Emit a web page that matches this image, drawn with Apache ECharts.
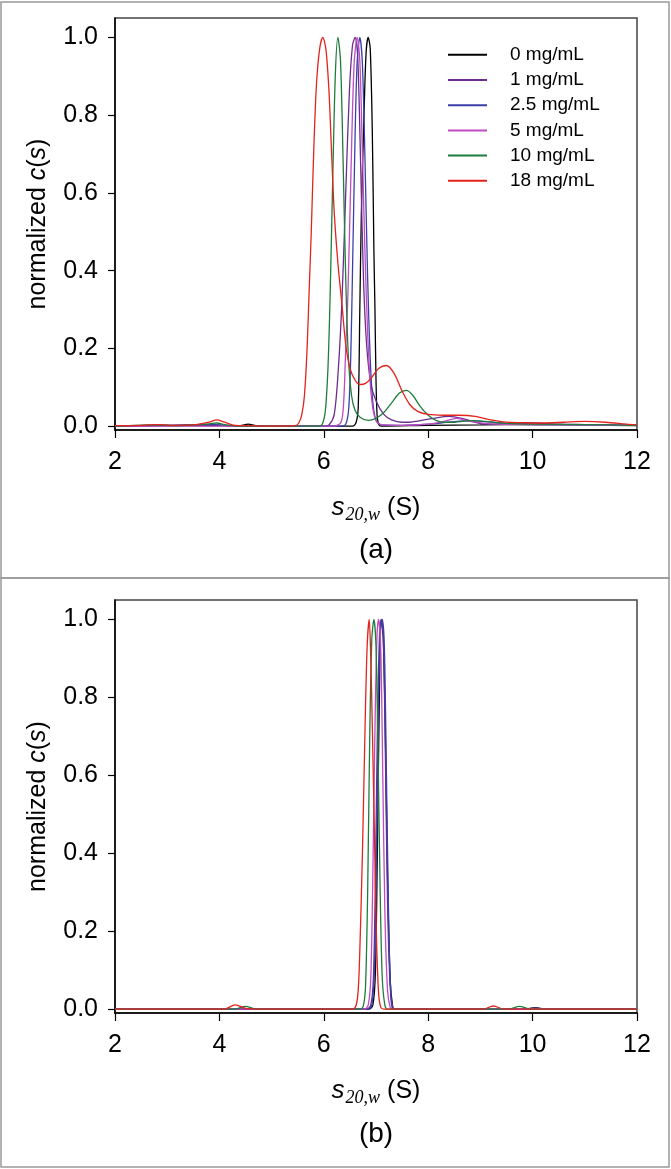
<!DOCTYPE html>
<html>
<head>
<meta charset="utf-8">
<script src="https://cdn.jsdelivr.net/npm/echarts@6/dist/echarts.min.js"></script>
<style>
html, body { margin: 0; padding: 0; background: #fff; }
#chart { width: 671px; height: 1169px; }
</style>
</head>
<body>
<div id="chart"></div>
<script>
// legend names and line colours
const names = ['0 mg/mL', '1 mg/mL', '2.5 mg/mL', '5 mg/mL', '10 mg/mL', '18 mg/mL'];
const colors = ['#000000', '#6b2d8f', '#3a40a8', '#c04ac0', '#1f7d3c', '#e3231d'];
const xTicks = [2, 4, 6, 8, 10, 12];
const yTicks = [0, 0.2, 0.4, 0.6, 0.8, 1.0];

// panel (a): [s20,w, normalized c(s)]
const a0 = [[2,0],[3,0.001],[4,0.002],[4.4,0.001],[4.55,0.005],[4.7,0.001],[5,0],[6.55,0],[6.62,0.01],[6.66,0.05],[6.69,0.3],[6.72,0.55],[6.77,0.8],[6.81,0.96],[6.85,1.0],[6.89,0.97],[6.93,0.75],[6.96,0.45],[6.98,0.3],[7.0,0.12],[7.02,0.03],[7.05,0.005],[7.1,0],[8,0.002],[9,0.003],[10,0.004],[11,0.003],[12,0.001]];
const a1 = [[2,0],[3,0.001],[3.9,0.004],[4.2,0.001],[5,0],[6,0],[6.1,0.003],[6.2,0.03],[6.28,0.15],[6.35,0.33],[6.42,0.6],[6.49,0.86],[6.55,0.98],[6.6,1.0],[6.65,0.95],[6.71,0.65],[6.76,0.38],[6.82,0.21],[6.9,0.11],[7.0,0.065],[7.15,0.03],[7.3,0.016],[7.5,0.01],[7.65,0.01],[7.8,0.013],[8.1,0.02],[8.4,0.025],[8.7,0.018],[9.05,0.006],[9.5,0.005],[10,0.008],[10.5,0.005],[11,0.004],[12,0.002]];
const a25 = [[2,0],[3.9,0.004],[4.2,0],[6.3,0],[6.42,0.005],[6.48,0.05],[6.52,0.2],[6.55,0.4],[6.6,0.75],[6.64,0.94],[6.69,1.0],[6.74,0.93],[6.79,0.68],[6.84,0.38],[6.89,0.17],[6.94,0.06],[7.0,0.015],[7.1,0.003],[7.5,0.002],[8,0.005],[8.4,0.01],[8.8,0.014],[9.2,0.01],[9.6,0.006],[10,0.004],[11,0.003],[12,0.002]];
const a5 = [[2,0],[6.2,0],[6.33,0.01],[6.38,0.06],[6.42,0.2],[6.46,0.33],[6.52,0.65],[6.58,0.93],[6.64,1.0],[6.69,0.94],[6.74,0.7],[6.79,0.44],[6.84,0.24],[6.89,0.11],[6.94,0.045],[7.0,0.015],[7.1,0.004],[7.5,0.002],[8,0.005],[8.3,0.012],[8.55,0.02],[8.8,0.012],[9.2,0.006],[10,0.004],[12,0.002]];
const a10 = [[2,0],[2.8,0.003],[3.2,0.001],[3.8,0.006],[3.95,0.008],[4.1,0.004],[4.4,0],[5.9,0],[5.97,0.005],[6.03,0.04],[6.08,0.15],[6.12,0.33],[6.17,0.63],[6.22,0.9],[6.27,1.0],[6.32,0.94],[6.37,0.68],[6.42,0.38],[6.47,0.18],[6.53,0.08],[6.6,0.04],[6.7,0.022],[6.85,0.015],[7.0,0.02],[7.15,0.035],[7.3,0.06],[7.45,0.085],[7.58,0.092],[7.7,0.08],[7.85,0.05],[8.0,0.028],[8.15,0.015],[8.3,0.01],[8.5,0.01],[8.8,0.014],[9.1,0.012],[9.5,0.007],[10,0.005],[11,0.004],[12,0.002]];
const a18 = [[2,0.001],[2.5,0.002],[2.8,0.004],[3.1,0.002],[3.5,0.003],[3.8,0.01],[3.95,0.016],[4.1,0.01],[4.3,0.002],[4.6,0.001],[5,0],[5.45,0.001],[5.52,0.008],[5.58,0.03],[5.63,0.08],[5.68,0.2],[5.72,0.35],[5.76,0.5],[5.81,0.72],[5.86,0.88],[5.92,0.97],[5.98,1.0],[6.04,0.97],[6.1,0.86],[6.15,0.7],[6.2,0.55],[6.27,0.42],[6.35,0.31],[6.42,0.21],[6.5,0.15],[6.6,0.118],[6.7,0.107],[6.8,0.11],[6.9,0.122],[7.05,0.148],[7.2,0.156],[7.35,0.135],[7.5,0.09],[7.65,0.055],[7.8,0.038],[8.0,0.03],[8.3,0.028],[8.6,0.028],[8.9,0.025],[9.2,0.016],[9.5,0.01],[9.8,0.009],[10.2,0.008],[10.6,0.01],[11.0,0.012],[11.4,0.01],[11.8,0.005],[12,0.003]];

// panel (b)
const b0 = [[2,0],[6.86,0],[6.94,0.01],[6.99,0.1],[7.03,0.45],[7.07,0.85],[7.1,1.0],[7.14,0.95],[7.18,0.7],[7.22,0.35],[7.27,0.08],[7.32,0.005],[7.36,0],[9.85,0],[10.05,0.004],[10.25,0],[12,0]];
const b1 = [[2,0],[6.82,0],[6.9,0.01],[6.95,0.08],[6.99,0.35],[7.03,0.75],[7.07,0.97],[7.1,1.0],[7.14,0.95],[7.18,0.65],[7.22,0.28],[7.27,0.06],[7.32,0.005],[7.36,0],[12,0]];
const b25 = [[2,0],[6.84,0],[6.92,0.01],[6.97,0.1],[7.01,0.4],[7.05,0.8],[7.09,0.98],[7.12,1.0],[7.16,0.93],[7.2,0.6],[7.24,0.25],[7.28,0.05],[7.33,0],[9.85,0],[10.05,0.003],[10.25,0],[12,0]];
const b5 = [[2,0],[6.78,0],[6.85,0.01],[6.9,0.08],[6.94,0.35],[6.98,0.72],[7.02,0.96],[7.05,1.0],[7.09,0.93],[7.13,0.6],[7.17,0.25],[7.22,0.05],[7.27,0.005],[7.32,0],[12,0]];
const b10 = [[2,0],[4.3,0],[4.5,0.007],[4.7,0],[6.7,0],[6.76,0.01],[6.8,0.06],[6.84,0.3],[6.88,0.7],[6.92,0.95],[6.96,1.0],[7.0,0.93],[7.04,0.65],[7.08,0.3],[7.12,0.08],[7.17,0.01],[7.22,0],[9.55,0],[9.75,0.007],[9.95,0],[12,0]];
const b18 = [[2,0],[4.1,0],[4.3,0.011],[4.5,0.002],[4.7,0],[6.55,0],[6.62,0.01],[6.66,0.05],[6.69,0.15],[6.74,0.4],[6.79,0.72],[6.83,0.93],[6.87,1.0],[6.9,0.9],[6.93,0.72],[6.97,0.45],[7.01,0.18],[7.05,0.04],[7.09,0.005],[7.15,0],[9.05,0],[9.25,0.008],[9.45,0],[12,0]];

const panelA = [a0, a1, a25, a5, a10, a18];
const panelB = [b0, b1, b25, b5, b10, b18];

const font = 'Liberation Sans, Arial, sans-serif';

function xAxisFor(gridIndex) {
  return {
    gridIndex: gridIndex,
    type: 'value',
    min: 2, max: 12, interval: 2,
    name: '{s|s}{sub|20,w}{n| (S)}',
    nameLocation: 'middle',
    nameGap: 62,
    nameTextStyle: {
      rich: {
        s: { fontSize: 26, fontStyle: 'italic', fontFamily: font, color: '#000' },
        sub: { fontSize: 18, fontStyle: 'italic', fontFamily: 'Liberation Serif, serif', color: '#000', padding: [14, 0, 0, 1] },
        n: { fontSize: 25, fontFamily: font, color: '#000' }
      }
    },
    axisLine: { show: true, onZero: false, lineStyle: { color: '#000', width: 1.5 } },
    axisTick: { show: true, length: 8, lineStyle: { color: '#000', width: 1.2 } },
    axisLabel: { fontSize: 25, fontFamily: font, color: '#000', margin: 20 },
    splitLine: { show: false }
  };
}

function yAxisFor(gridIndex) {
  return {
    gridIndex: gridIndex,
    type: 'value',
    min: -0.01, max: 1.05,
    name: 'normalized {i|c}({i|s})',
    nameLocation: 'middle',
    nameRotate: 90,
    nameGap: 64,
    nameTextStyle: {
      fontSize: 25, fontFamily: font, color: '#000',
      rich: { i: { fontSize: 25, fontFamily: font, fontStyle: 'italic', color: '#000' } }
    },
    axisLine: { show: true, onZero: false, lineStyle: { color: '#000', width: 1.5 } },
    axisTick: { show: true, length: 7, customValues: yTicks, lineStyle: { color: '#000', width: 1.2 } },
    axisLabel: {
      fontSize: 25, fontFamily: font, color: '#000', margin: 17,
      customValues: yTicks,
      formatter: v => v.toFixed(1)
    },
    splitLine: { show: false }
  };
}

const series = [];
[panelA, panelB].forEach((panel, gi) => {
  panel.forEach((data, i) => {
    series.push({
      name: names[i],
      type: 'line',
      xAxisIndex: gi, yAxisIndex: gi,
      data: data,
      smooth: 0.3,
      symbol: 'none',
      lineStyle: { color: colors[i], width: 1.3 },
      itemStyle: { color: colors[i] },
      emphasis: { disabled: true },
      z: 2 + i
    });
  });
});

const chart = echarts.init(document.getElementById('chart'));
chart.setOption({
  animation: false,
  backgroundColor: '#fff',
  grid: [
    { left: 115, top: 18, width: 522, height: 412, show: true, borderColor: '#444', borderWidth: 1.5 },
    { left: 115, top: 600, width: 522, height: 413, show: true, borderColor: '#444', borderWidth: 1.5 }
  ],
  xAxis: [xAxisFor(0), xAxisFor(1)],
  yAxis: [yAxisFor(0), yAxisFor(1)],
  legend: {
    data: names,
    orient: 'vertical',
    left: 443, top: 40,
    icon: 'rect',
    itemWidth: 39, itemHeight: 2, itemGap: 5.6,
    selectedMode: false,
    textStyle: { fontSize: 19, lineHeight: 19.6, fontFamily: font, color: '#000', padding: [0, 0, 0, 18] }
  },
  graphic: [
    { type: 'rect', shape: { x: 1, y: 2, width: 668, height: 576 }, style: { fill: 'none', stroke: '#999', lineWidth: 1.5 } },
    { type: 'rect', shape: { x: 1, y: 578, width: 668, height: 589 }, style: { fill: 'none', stroke: '#999', lineWidth: 1.5 } },
    { type: 'text', x: 376, y: 550, style: { text: '(a)', fontSize: 28, fontFamily: font, fill: '#000', textAlign: 'center', textVerticalAlign: 'middle' } },
    { type: 'text', x: 376, y: 1134, style: { text: '(b)', fontSize: 28, fontFamily: font, fill: '#000', textAlign: 'center', textVerticalAlign: 'middle' } }
  ],
  series: series
});
</script>
</body>
</html>
